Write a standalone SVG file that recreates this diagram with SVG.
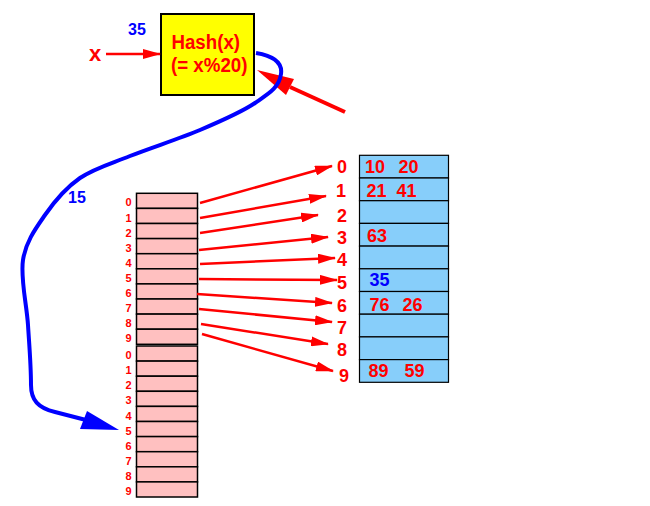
<svg xmlns="http://www.w3.org/2000/svg" width="650" height="506" viewBox="0 0 650 506">
<defs>
<style>
.lbl{font-family:"Liberation Sans",Arial,sans-serif;font-weight:bold;fill:#ff0000}
.blue{fill:#0000ff}
.pink{fill:#ffc0c0;stroke:#000;stroke-width:1.5}
.cell{fill:#87cefa;stroke:#000;stroke-width:1.2}
.arr{stroke:#ff0000;stroke-width:2.5;fill:none;marker-end:url(#ah)}
</style>
<marker id="ah" viewBox="0 0 18 10" refX="17" refY="5" markerWidth="18" markerHeight="10" markerUnits="userSpaceOnUse" orient="auto">
<path d="M0,0 L18,5 L0,10 z" fill="#ff0000"/>
</marker>
</defs>
<rect width="650" height="506" fill="#fff"/>

<g id="hash">
<rect x="161" y="14" width="93" height="81" fill="#ffff00" stroke="#000" stroke-width="2"/>
<text class="lbl" x="171.5" y="48.5" font-size="20" textLength="68.5" lengthAdjust="spacingAndGlyphs">Hash(x)</text>
<text class="lbl" x="171" y="71.5" font-size="20" textLength="76.5" lengthAdjust="spacingAndGlyphs">(= x%20)</text>
</g>

<g id="input">
<text class="lbl" x="89" y="61" font-size="22">x</text>
<text class="lbl blue" x="128" y="35" font-size="16">35</text>
</g>

<g id="table-small">
<rect class="pink" x="136.5" y="193.3" width="61" height="15.1"/>
<rect class="pink" x="136.5" y="208.4" width="61" height="15.1"/>
<rect class="pink" x="136.5" y="223.5" width="61" height="15.1"/>
<rect class="pink" x="136.5" y="238.6" width="61" height="15.1"/>
<rect class="pink" x="136.5" y="253.7" width="61" height="15.1"/>
<rect class="pink" x="136.5" y="268.8" width="61" height="15.1"/>
<rect class="pink" x="136.5" y="283.9" width="61" height="15.1"/>
<rect class="pink" x="136.5" y="299.0" width="61" height="15.1"/>
<rect class="pink" x="136.5" y="314.1" width="61" height="15.1"/>
<rect class="pink" x="136.5" y="329.2" width="61" height="15.1"/>
<g class="lbl" font-size="11" text-anchor="end">
<text x="131.5" y="206">0</text>
<text x="131.5" y="221.5">1</text>
<text x="131.5" y="236.5">2</text>
<text x="131.5" y="251.5">3</text>
<text x="131.5" y="266.5">4</text>
<text x="131.5" y="281.5">5</text>
<text x="131.5" y="297">6</text>
<text x="131.5" y="312">7</text>
<text x="131.5" y="327">8</text>
<text x="131.5" y="342">9</text>
</g>
</g>

<g id="table-small-2">
<rect class="pink" x="136.5" y="346" width="61" height="15.1"/>
<rect class="pink" x="136.5" y="361.1" width="61" height="15.1"/>
<rect class="pink" x="136.5" y="376.2" width="61" height="15.1"/>
<rect class="pink" x="136.5" y="391.3" width="61" height="15.1"/>
<rect class="pink" x="136.5" y="406.4" width="61" height="15.1"/>
<rect class="pink" x="136.5" y="421.5" width="61" height="15.1"/>
<rect class="pink" x="136.5" y="436.6" width="61" height="15.1"/>
<rect class="pink" x="136.5" y="451.7" width="61" height="15.1"/>
<rect class="pink" x="136.5" y="466.8" width="61" height="15.1"/>
<rect class="pink" x="136.5" y="481.9" width="61" height="15.1"/>
<g class="lbl" font-size="11" text-anchor="end">
<text x="131.5" y="359">0</text>
<text x="131.5" y="374">1</text>
<text x="131.5" y="389">2</text>
<text x="131.5" y="404">3</text>
<text x="131.5" y="419.5">4</text>
<text x="131.5" y="434.5">5</text>
<text x="131.5" y="449.5">6</text>
<text x="131.5" y="464.5">7</text>
<text x="131.5" y="479.5">8</text>
<text x="131.5" y="494.5">9</text>
</g>
</g>

<g id="table-big">
<rect class="cell" x="359.5" y="155.3" width="89" height="22.7"/>
<rect class="cell" x="359.5" y="178.0" width="89" height="22.7"/>
<rect class="cell" x="359.5" y="200.7" width="89" height="22.7"/>
<rect class="cell" x="359.5" y="223.4" width="89" height="22.7"/>
<rect class="cell" x="359.5" y="246.1" width="89" height="22.7"/>
<rect class="cell" x="359.5" y="268.8" width="89" height="22.7"/>
<rect class="cell" x="359.5" y="291.5" width="89" height="22.7"/>
<rect class="cell" x="359.5" y="314.2" width="89" height="22.7"/>
<rect class="cell" x="359.5" y="336.9" width="89" height="22.7"/>
<rect class="cell" x="359.5" y="359.6" width="89" height="22.7"/>
<g class="lbl" font-size="18">
<text x="365" y="172.7">10</text><text x="398.5" y="172.7">20</text>
<text x="366.5" y="196.7">21</text><text x="396.5" y="196.7">41</text>
<text x="367" y="242.3">63</text>
<text class="lbl blue" x="369.5" y="285.7">35</text>
<text x="369.5" y="311">76</text><text x="402.5" y="311">26</text>
<text x="368.5" y="376.7">89</text><text x="404.5" y="376.7">59</text>
</g>
<g class="lbl" font-size="18" text-anchor="middle">
<text x="342" y="172.7">0</text>
<text x="341" y="196.7">1</text>
<text x="342" y="221.7">2</text>
<text x="342" y="244.3">3</text>
<text x="342" y="266">4</text>
<text x="342" y="289.3">5</text>
<text x="342" y="312.3">6</text>
<text x="342" y="334.3">7</text>
<text x="342" y="356">8</text>
<text x="344" y="381.7">9</text>
</g>
</g>

<g id="connectors">
<line class="arr" x1="106" y1="54" x2="160" y2="54"/>
<line class="arr" x1="200" y1="203" x2="332" y2="166"/>
<line class="arr" x1="200" y1="218" x2="326" y2="196"/>
<line class="arr" x1="200" y1="233" x2="318" y2="215"/>
<line class="arr" x1="199" y1="250" x2="328" y2="237"/>
<line class="arr" x1="200" y1="264" x2="335" y2="258"/>
<line class="arr" x1="199" y1="279" x2="337" y2="280"/>
<line class="arr" x1="197" y1="294" x2="332" y2="303"/>
<line class="arr" x1="199" y1="309" x2="332" y2="322"/>
<line class="arr" x1="201" y1="324" x2="328" y2="344"/>
<line class="arr" x1="202" y1="334" x2="333" y2="371"/>
<line x1="345" y1="112" x2="290" y2="87" stroke="#ff0000" stroke-width="4"/>
<polygon points="257,70 294,79 286,95" fill="#ff0000"/>
<path d="M256,53 C268,55 283,60 281,74 C279,88 268.5,93.7 255,103 C241.5,112.3 220.8,121.2 200,130 C179.2,138.8 150,148 130,156 C110,164 94.2,168.2 80,178 C65.8,187.8 54.5,201.3 45,215 C35.5,228.7 25.8,241.7 23,260 C20.2,278.3 26.7,304.2 28,325 C29.3,345.8 31,365 31,385 C31,400 38,408 55,412 L86,420" fill="none" stroke="#0000ff" stroke-width="4"/>
<polygon points="87,411 80,429 119,430" fill="#0000ff"/>
<text class="lbl blue" x="68" y="202.7" font-size="16">15</text>
</g>
</svg>
